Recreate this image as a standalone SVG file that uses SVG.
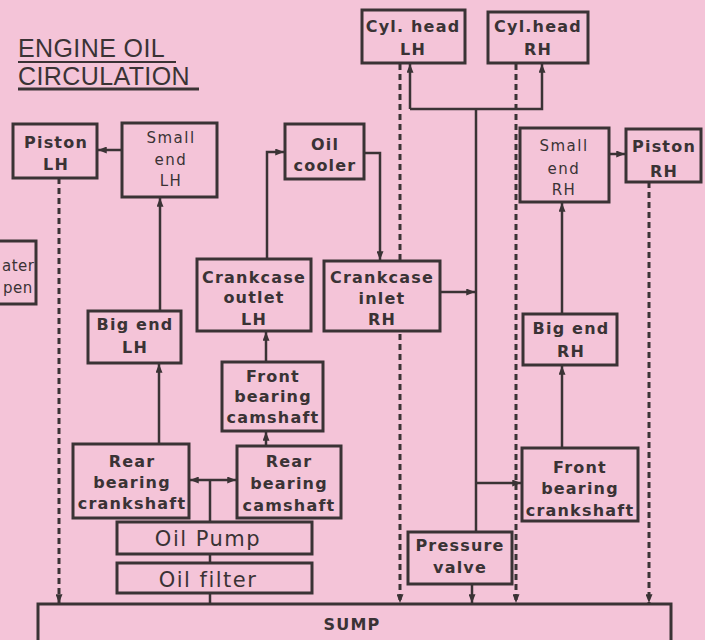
<svg xmlns="http://www.w3.org/2000/svg" width="705" height="640" viewBox="0 0 705 640">
<defs>
<marker id="ah" viewBox="0 0 10 8" refX="10" refY="4" markerWidth="9" markerHeight="7" markerUnits="userSpaceOnUse" orient="auto">
<path d="M0,0 L10,4 L0,8 Z" fill="#3a3335"/>
</marker>
<style>
.bx{fill:#f4c4d8;stroke:#3a3335;stroke-width:3}
.t{font-family:"DejaVu Sans","Liberation Sans",sans-serif;font-weight:bold;font-size:16px;letter-spacing:1.2px;fill:#3a3335;text-anchor:middle}
.tl{font-family:"DejaVu Sans","Liberation Sans",sans-serif;font-size:15px;letter-spacing:1.5px;fill:#3a3335;text-anchor:middle}
.tw{font-family:"DejaVu Sans","Liberation Sans",sans-serif;font-size:15px;letter-spacing:0.5px;fill:#3a3335}
.tp{font-family:"DejaVu Sans","Liberation Sans",sans-serif;font-size:21px;letter-spacing:1.5px;fill:#3a3335;text-anchor:middle}
.ln{fill:none;stroke:#3a3335;stroke-width:2.5}
.ds{fill:none;stroke:#3a3335;stroke-width:3;stroke-dasharray:6,4}
.ar{marker-end:url(#ah)}
.ti{font-family:"Liberation Sans",sans-serif;font-size:25px;letter-spacing:0.4px;fill:#3a3335}
</style>
</defs>
<rect width="705" height="640" fill="#f4c4d8"/>

<g id="title">
<text class="ti" x="18" y="57">ENGINE OIL</text>
<text class="ti" x="18" y="85">CIRCULATION</text>
<line x1="18" y1="62" x2="176" y2="62" stroke="#3a3335" stroke-width="2"/>
<line x1="18" y1="89" x2="199" y2="89" stroke="#3a3335" stroke-width="3"/>
</g>

<g id="connectors">
<path class="ds ar" d="M59,178 V603"/>
<path class="ds ar" d="M400,64 V603"/>
<path class="ds ar" d="M516,64 V603"/>
<path class="ds ar" d="M649,182 V603"/>
<path class="ln" d="M210,522 V480"/>
<path class="ln ar" d="M210,480 H190"/>
<path class="ln ar" d="M210,480 H236"/>
<path class="ln" d="M210,554 V563"/>
<path class="ln" d="M210,593 V604"/>
<path class="ln ar" d="M159,444 V364"/>
<path class="ln ar" d="M160,311 V198"/>
<path class="ln ar" d="M122,150 H98"/>
<path class="ln ar" d="M266,446 V432"/>
<path class="ln ar" d="M266,362 V332"/>
<path class="ln ar" d="M267,259 V152 H284"/>
<path class="ln ar" d="M364,153 H380 V260"/>
<path class="ln ar" d="M441,292 H475"/>
<path class="ln" d="M476,532 V109"/>
<path class="ln ar" d="M410,109 V64"/>
<path class="ln ar" d="M410,109 H542 V64"/>
<path class="ln ar" d="M476,483 H521"/>
<path class="ln ar" d="M472,585 V603"/>
<path class="ln ar" d="M562,448 V366"/>
<path class="ln ar" d="M562,314 V203"/>
<path class="ln ar" d="M609,154 H625"/>
</g>

<g id="water"><rect class="bx" x="-10" y="241" width="46" height="63"/>
<text class="tw" x="2" y="271">ater</text>
<text class="tw" x="3" y="293">pen</text></g>

<g id="piston-lh"><rect class="bx" x="13" y="124" width="84" height="54"/>
<text class="t" x="56" y="148">Piston</text><text class="t" x="56" y="170">LH</text></g>

<g id="small-end-lh"><rect class="bx" x="122" y="123" width="95" height="74"/>
<text class="tl" x="171" y="143">Small</text><text class="tl" x="171" y="165">end</text><text class="tl" x="171" y="186">LH</text></g>

<g id="big-end-lh"><rect class="bx" x="88" y="311" width="93" height="52"/>
<text class="t" x="135" y="330">Big end</text><text class="t" x="135" y="353">LH</text></g>

<g id="rear-bearing-crankshaft"><rect class="bx" x="73" y="444" width="116" height="74"/>
<text class="t" x="132" y="467">Rear</text><text class="t" x="132" y="488">bearing</text><text class="t" x="132" y="509">crankshaft</text></g>

<g id="rear-bearing-camshaft"><rect class="bx" x="237" y="446" width="104" height="72"/>
<text class="t" x="289" y="467">Rear</text><text class="t" x="289" y="489">bearing</text><text class="t" x="289" y="511">camshaft</text></g>

<g id="front-bearing-camshaft"><rect class="bx" x="222" y="362" width="101" height="69"/>
<text class="t" x="273" y="382">Front</text><text class="t" x="273" y="402">bearing</text><text class="t" x="273" y="423">camshaft</text></g>

<g id="crankcase-outlet-lh"><rect class="bx" x="197" y="259" width="114" height="72"/>
<text class="t" x="254" y="283">Crankcase</text><text class="t" x="254" y="303">outlet</text><text class="t" x="254" y="325">LH</text></g>

<g id="oil-cooler"><rect class="bx" x="285" y="124" width="79" height="55"/>
<text class="t" x="325" y="150">Oil</text><text class="t" x="325" y="171">cooler</text></g>

<g id="crankcase-inlet-rh"><rect class="bx" x="324" y="261" width="116" height="70"/>
<text class="t" x="382" y="283">Crankcase</text><text class="t" x="382" y="304">inlet</text><text class="t" x="382" y="325">RH</text></g>

<g id="cyl-head-lh"><rect class="bx" x="362" y="10" width="103" height="53"/>
<text class="t" x="413" y="32">Cyl. head</text><text class="t" x="413" y="55">LH</text></g>

<g id="cyl-head-rh"><rect class="bx" x="488" y="12" width="100" height="51"/>
<text class="t" x="538" y="32">Cyl.head</text><text class="t" x="538" y="55">RH</text></g>

<g id="small-end-rh"><rect class="bx" x="520" y="128" width="89" height="74"/>
<text class="tl" x="564" y="151">Small</text><text class="tl" x="564" y="174">end</text><text class="tl" x="564" y="195">RH</text></g>

<g id="piston-rh"><rect class="bx" x="626" y="129" width="75" height="53"/>
<text class="t" x="664" y="152">Piston</text><text class="t" x="664" y="177">RH</text></g>

<g id="big-end-rh"><rect class="bx" x="523" y="314" width="94" height="51"/>
<text class="t" x="571" y="334">Big end</text><text class="t" x="571" y="357">RH</text></g>

<g id="front-bearing-crankshaft"><rect class="bx" x="522" y="448" width="116" height="73"/>
<text class="t" x="580" y="473">Front</text><text class="t" x="580" y="494">bearing</text><text class="t" x="580" y="516">crankshaft</text></g>

<g id="pressure-valve"><rect class="bx" x="408" y="532" width="104" height="52"/>
<text class="t" x="460" y="551">Pressure</text><text class="t" x="460" y="573">valve</text></g>

<g id="oil-pump"><rect class="bx" x="117" y="522" width="195" height="32"/>
<text class="tp" x="208" y="546">Oil Pump</text></g>

<g id="oil-filter"><rect class="bx" x="117" y="563" width="195" height="30"/>
<text class="tp" x="208" y="587">Oil filter</text></g>

<g id="sump"><rect class="bx" x="38" y="604" width="633" height="40"/>
<text class="t" x="352" y="630">SUMP</text></g>
</svg>
